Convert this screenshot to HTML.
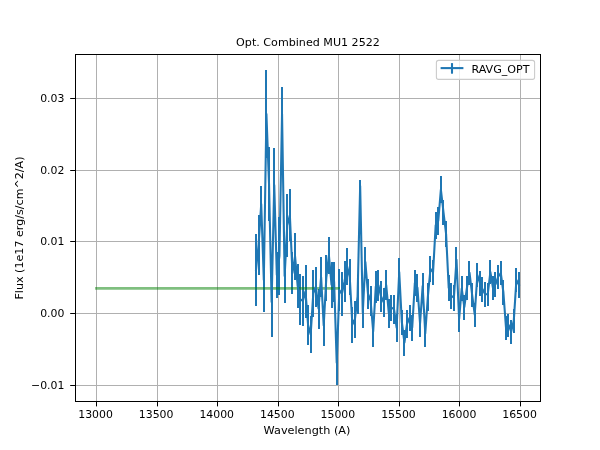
<!DOCTYPE html><html><head><meta charset="utf-8"><title>Opt. Combined MU1 2522</title><style>html,body{margin:0;padding:0;background:#fff}svg{display:block}text{font-family:"DejaVu Sans","Liberation Sans",sans-serif;fill:#000}</style></head><body>
<svg width="600" height="450" viewBox="0 0 600 450">
<rect width="600" height="450" fill="#fff"/>
<g stroke="#b0b0b0" stroke-width="1" shape-rendering="crispEdges">
<line x1="96.5" y1="55" x2="96.5" y2="401"/>
<line x1="157.5" y1="55" x2="157.5" y2="401"/>
<line x1="217.5" y1="55" x2="217.5" y2="401"/>
<line x1="278.5" y1="55" x2="278.5" y2="401"/>
<line x1="338.5" y1="55" x2="338.5" y2="401"/>
<line x1="399.5" y1="55" x2="399.5" y2="401"/>
<line x1="459.5" y1="55" x2="459.5" y2="401"/>
<line x1="520.5" y1="55" x2="520.5" y2="401"/>
<line x1="76" y1="98.5" x2="540" y2="98.5"/>
<line x1="76" y1="170.5" x2="540" y2="170.5"/>
<line x1="76" y1="241.5" x2="540" y2="241.5"/>
<line x1="76" y1="313.5" x2="540" y2="313.5"/>
<line x1="76" y1="385.5" x2="540" y2="385.5"/>
</g>
<clipPath id="c"><rect x="76" y="55" width="464" height="346"/></clipPath>
<path clip-path="url(#c)" d="M256,234V305.8M259,215V274.5M261,186V222M264,248V311.8M266,70V158M269,147V220.5M272,267V336.8M274,148V222M277,252V297.8M279,217V294.8M282,87V141M285,249V302.8M287,194.3V256.5M290,189.3V241M292,252V293.8M295,233V279.5M298,264V307.8M300,274V324.8M303,276V325.8M306,265V317.5M308,305V344.8M311,316V352.8M313,270V316.5M316,267V306.5M319,288.5V328.5M321,257V297M324,305.5V345.5M326,255V300.7M329,237V273.7M332,262V307.5M334,262V301.7M337,340.8V384.8M339,269V311M342,272V315.5M345,261V301.5M347,248V285M350,259V295M352,306.5V342.5M355,301V337.5M358,279.5V313.5M360,180V192M363,297.5V327.5M365,247V277M368,279V308.5M371,285.5V315.5M373,316.5V346.5M376,271V302.5M378,270V300.5M381,281V311.5M384,287.5V316.5M386,270V300M389,298.5V327.5M391,294.5V320.5M394,295V323.5M397,313.5V341.5M399,258V286M402,309.5V334.5M404,329.5V355.5M407,310V337.5M410,305V330.5M412,314.5V340.5M415,270V296M417,274V301.5M420,310.5V336.5M423,273V299M425,320.5V346.5M428,283V310.5M430,256V281.5M433,260V284.5M436,212V238.5M438,207V234.5M441,176V203M443,200V224.5M446,221V247M449,275V300.5M451,283V308.5M454,285V310.5M456,247V272.4M459,306.5V331.5M462,276V301M464,294.5V319.5M467,276V300M469,261V284.5M472,283V306.5M475,302.5V326.5M477,263V287M480,271V295.5M482,277V301.5M485,282V306.5M488,283V305.5M490,260V284M493,276V299.5M495,272V296.5M498,265V288.5M501,261V285M503,280V304.5M506,315.5V339.5M508,313.5V336.5M511,319.5V343.5M514,308.5V332.5M516,268V292M519,272V297.5" fill="none" stroke="#1f77b4" stroke-width="2" shape-rendering="crispEdges"/>
<line x1="96.5" y1="288.4" x2="338.6" y2="288.4" stroke="#008000" stroke-opacity="0.5" stroke-width="2.78" stroke-linecap="square"/>
<polyline clip-path="url(#c)" points="256.00,269.90 258.60,244.75 261.21,204.00 263.81,279.90 266.42,114.00 269.02,183.75 271.62,301.90 274.23,185.00 276.83,274.90 279.44,255.90 282.04,114.00 284.64,275.90 287.25,225.40 289.85,215.15 292.46,272.90 295.06,256.25 297.66,285.90 300.27,299.40 302.87,300.90 305.48,291.25 308.08,324.90 310.68,334.40 313.29,293.25 315.89,286.75 318.50,308.50 321.10,277.00 323.70,325.50 326.31,277.85 328.91,255.35 331.52,284.75 334.12,281.85 336.72,362.80 339.33,290.00 341.93,293.75 344.54,281.25 347.14,266.50 349.74,277.00 352.35,324.50 354.95,319.25 357.56,296.50 360.16,186.00 362.76,312.50 365.37,262.00 367.97,293.75 370.58,300.50 373.18,331.50 375.78,286.75 378.39,285.25 380.99,296.25 383.60,302.00 386.20,285.00 388.80,313.00 391.41,307.50 394.01,309.25 396.62,327.50 399.22,272.00 401.82,322.00 404.43,342.50 407.03,323.75 409.64,317.75 412.24,327.50 414.84,283.00 417.45,287.75 420.05,323.50 422.66,286.00 425.26,333.50 427.86,296.75 430.47,268.75 433.07,272.25 435.68,225.25 438.28,220.75 440.88,189.50 443.49,212.25 446.09,234.00 448.70,287.75 451.30,295.75 453.90,297.75 456.51,259.70 459.11,319.00 461.72,288.50 464.32,307.00 466.92,288.00 469.53,272.75 472.13,294.75 474.74,314.50 477.34,275.00 479.94,283.25 482.55,289.25 485.15,294.25 487.76,294.25 490.36,272.00 492.96,287.75 495.57,284.25 498.17,276.75 500.78,273.00 503.38,292.25 505.98,327.50 508.59,325.00 511.19,331.50 513.80,320.50 516.40,280.00 519.00,284.75" fill="none" stroke="#1f77b4" stroke-width="2.08" stroke-linejoin="round" stroke-linecap="square"/>
<rect x="75.5" y="54.5" width="465" height="347" fill="none" stroke="#000" stroke-width="1" shape-rendering="crispEdges"/>
<g stroke="#000" stroke-width="1">
<line x1="96.5" y1="402" x2="96.5" y2="406.4"/>
<line x1="157.5" y1="402" x2="157.5" y2="406.4"/>
<line x1="217.5" y1="402" x2="217.5" y2="406.4"/>
<line x1="278.5" y1="402" x2="278.5" y2="406.4"/>
<line x1="338.5" y1="402" x2="338.5" y2="406.4"/>
<line x1="399.5" y1="402" x2="399.5" y2="406.4"/>
<line x1="459.5" y1="402" x2="459.5" y2="406.4"/>
<line x1="520.5" y1="402" x2="520.5" y2="406.4"/>
<line x1="70.2" y1="98.5" x2="75" y2="98.5"/>
<line x1="70.2" y1="170.5" x2="75" y2="170.5"/>
<line x1="70.2" y1="241.5" x2="75" y2="241.5"/>
<line x1="70.2" y1="313.5" x2="75" y2="313.5"/>
<line x1="70.2" y1="385.5" x2="75" y2="385.5"/>
</g>
<g font-size="10.9" text-anchor="middle">
<text x="95.60" y="417.5">13000</text>
<text x="156.17" y="417.5">13500</text>
<text x="216.74" y="417.5">14000</text>
<text x="277.31" y="417.5">14500</text>
<text x="337.88" y="417.5">15000</text>
<text x="398.46" y="417.5">15500</text>
<text x="459.03" y="417.5">16000</text>
<text x="519.60" y="417.5">16500</text>
</g>
<g font-size="10.9" text-anchor="end">
<text x="64.4" y="101.5">0.03</text>
<text x="64.4" y="173.5">0.02</text>
<text x="64.4" y="244.5">0.01</text>
<text x="64.4" y="316.5">0.00</text>
<text x="64.4" y="388.5">−0.01</text>
</g>
<text x="308" y="46.3" font-size="11.11" text-anchor="middle">Opt. Combined MU1 2522</text>
<text x="307" y="434" font-size="11.25" text-anchor="middle">Wavelength (A)</text>
<text transform="translate(23.3,228) rotate(-90)" font-size="11.11" text-anchor="middle">Flux (1e17 erg/s/cm^2/A)</text>
<rect x="436.4" y="60.4" width="98.2" height="19" rx="2.2" ry="2.2" fill="#fff" fill-opacity="0.8" stroke="#ccc" stroke-width="1.1"/>
<line x1="440.6" y1="68.1" x2="463.4" y2="68.1" stroke="#1f77b4" stroke-width="2.08"/>
<line x1="452" y1="63.1" x2="452" y2="73.7" stroke="#1f77b4" stroke-width="2.08"/>
<text x="471.4" y="73.4" font-size="11.11">RAVG_OPT</text>
</svg></body></html>
